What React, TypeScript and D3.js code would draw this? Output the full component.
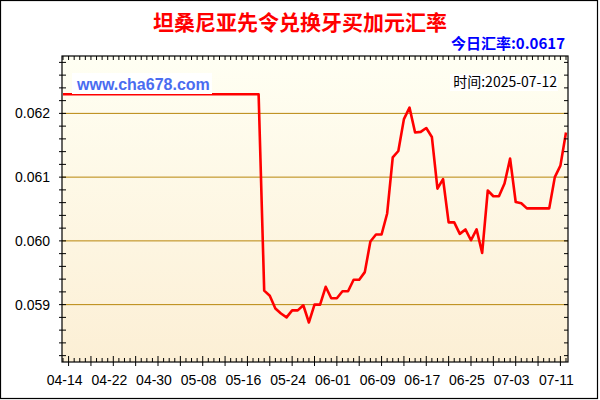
import React from 'react';
import * as d3 from 'd3';

const TITLE = '坦桑尼亚先令兑换牙买加元汇率';
const TODAY_RATE = '今日汇率:0.0617';
const SITE = 'www.cha678.com';
const DATE_STAMP = '时间:2025-07-12';

// daily rates, first value is 2025-04-13, last is 2025-07-12
const START_DATE = '2025-04-13';
const RATES = [
  0.0623, 0.0623, 0.0623, 0.0623, 0.0623, 0.0623, 0.0623, 0.0623, 0.0623, 0.0623,
  0.0623, 0.0623, 0.0623, 0.0623, 0.0623, 0.0623, 0.0623, 0.0623, 0.0623, 0.0623,
  0.0623, 0.0623, 0.0623, 0.0623, 0.0623, 0.0623, 0.0623, 0.0623, 0.0623, 0.0623,
  0.0623, 0.0623, 0.0623, 0.0623, 0.0623, 0.0623,
  0.05922, 0.05914, 0.05894, 0.05886, 0.0588, 0.05891, 0.05891, 0.05899, 0.05872, 0.059,
  0.059, 0.05928, 0.0591, 0.0591, 0.05921, 0.05921, 0.05939, 0.05939, 0.05951, 0.05999,
  0.0601, 0.0601, 0.06043, 0.06131, 0.06141, 0.06191, 0.06209, 0.0617, 0.06171, 0.06177,
  0.06163, 0.06082, 0.06097, 0.06029, 0.06029, 0.06011, 0.06018, 0.06001, 0.06018, 0.05981,
  0.06079, 0.0607, 0.0607, 0.0609, 0.06129, 0.06061, 0.06059, 0.06051, 0.06051, 0.06051,
  0.06051, 0.06051, 0.061, 0.06118, 0.0617
];

const X_TICK_LABELS = ['04-14', '04-22', '04-30', '05-08', '05-16', '05-24', '06-01', '06-09', '06-17', '06-25', '07-03', '07-11'];
const Y_TICKS = [0.059, 0.06, 0.061, 0.062];
const Y_DOMAIN: [number, number] = [0.0581, 0.0629];

const W = 600;
const H = 400;
const plot = { left: 62, right: 568, top: 56, bottom: 362 };
const LATIN = '"Liberation Sans", Arial, sans-serif';
const CJK = '"Noto Sans CJK SC", "Noto Sans", sans-serif';

export default function App() {
  const start = new Date(START_DATE + 'T00:00:00Z');
  const data = RATES.map((v, i) => ({ date: d3.utcDay.offset(start, i), value: v }));
  const end = data[data.length - 1].date;

  const x = d3.scaleUtc().domain([start, end]).range([plot.left + 1, plot.right - 2]);
  const y = d3.scaleLinear().domain(Y_DOMAIN).range([plot.bottom, plot.top]);

  const line = d3.line<{ date: Date; value: number }>()
    .x(d => x(d.date))
    .y(d => y(d.value));

  const days = d3.utcDay.range(start, d3.utcDay.offset(end, 1));
  const labelDates = X_TICK_LABELS.map(s => new Date(`2025-${s}T00:00:00Z`));
  const minorY = d3.range(58.2, 62.9, 0.2).map(v => v / 1000);

  return (
    <div>
      <style>{'body{margin:0}'}</style>
      <svg width={W} height={H} style={{ display: 'block' }}>
        <defs>
          <linearGradient id="bg" x1="0" y1="0" x2="0" y2="1">
            <stop offset="0%" stopColor="#fffff3" />
            <stop offset="100%" stopColor="#fcefd5" />
          </linearGradient>
        </defs>
        <rect x={0} y={0} width={W} height={H} fill="#fff" />
        <rect x={0.5} y={0.5} width={597} height={398} fill="none" stroke="#000" strokeWidth={1.2} />

        <text x={300} y={30} textAnchor="middle" fill="#ff0000" fontWeight="bold" fontSize={21} fontFamily={CJK}>
          {TITLE}
        </text>
        <text x={565} y={49} textAnchor="end" fill="#0000ff" fontWeight="bold" fontSize={15} fontFamily={CJK}>
          {TODAY_RATE}
        </text>

        <rect x={plot.left} y={plot.top} width={plot.right - plot.left} height={plot.bottom - plot.top} fill="url(#bg)" />

        {Y_TICKS.map(t => (
          <line key={t} x1={plot.left} x2={plot.right} y1={y(t)} y2={y(t)} stroke="#b8860b" strokeWidth={1} />
        ))}

        <path d={line(data) ?? ''} fill="none" stroke="#ff0000" strokeWidth={2.6} strokeLinejoin="round" />

        <rect x={72} y={73} width={140} height={21} fill="#fff" />
        <text x={77} y={90} fill="#4a6cf0" fontWeight="bold" fontSize={16} fontFamily={LATIN}>{SITE}</text>
        <rect x={450} y={74} width={108} height={17} fill="#fff" />
        <text x={557} y={87} textAnchor="end" fill="#000" fontSize={14} fontFamily={CJK}>{DATE_STAMP}</text>

        <rect x={plot.left} y={plot.top} width={plot.right - plot.left} height={plot.bottom - plot.top}
          fill="none" stroke="#000" strokeWidth={1.2} />

        {minorY.map((t, i) => (
          <g key={i}>
            <line x1={plot.left - 3} x2={plot.left + 4} y1={y(t)} y2={y(t)} stroke="#000" />
            <line x1={plot.right - 4} x2={plot.right} y1={y(t)} y2={y(t)} stroke="#000" />
          </g>
        ))}
        {days.map((d, i) => {
          const px = x(d);
          const k = d3.utcDay.count(labelDates[0], d);
          const major = k % 4 === 0;
          return (
            <g key={i}>
              <line x1={px} x2={px} y1={plot.top} y2={plot.top + 4} stroke="#000" />
              <line x1={px} x2={px} y1={plot.bottom - (major ? 6 : 4)} y2={plot.bottom + (major ? 4 : 0)} stroke="#000" />
            </g>
          );
        })}

        {Y_TICKS.map(t => (
          <text key={t} x={50} y={y(t) + 5} textAnchor="end" fill="#000" fontSize={14} fontFamily={LATIN}>
            {d3.format('.3f')(t)}
          </text>
        ))}
        {labelDates.map((d, i) => (
          <text key={i} x={x(d) - 4} y={385} textAnchor="middle" fill="#000" fontSize={14} fontFamily={LATIN}>
            {X_TICK_LABELS[i]}
          </text>
        ))}
      </svg>
    </div>
  );
}
